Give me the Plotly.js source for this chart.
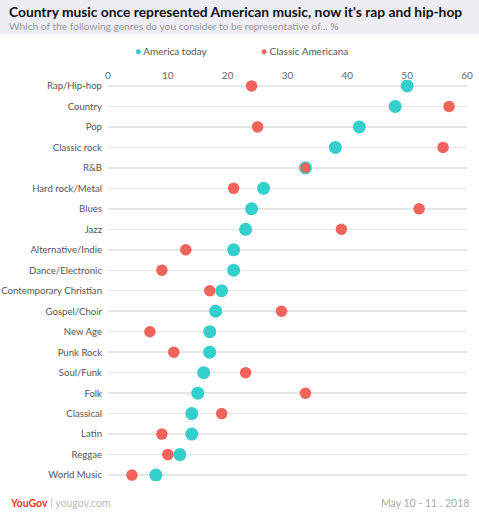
<!DOCTYPE html>
<html>
<head>
<meta charset="utf-8">
<script src="https://cdn.plot.ly/plotly-3.0.1.min.js"></script>
<style>html,body{margin:0;padding:0;background:#fff;}#chart{width:479px;height:517px;}</style>
</head>
<body>
<div id="chart"></div>
<script>
const genres = ["Rap/Hip-hop","Country","Pop","Classic rock","R&B","Hard rock/Metal","Blues","Jazz","Alternative/Indie","Dance/Electronic","Contemporary Christian","Gospel/Choir","New Age","Punk Rock","Soul/Funk","Folk","Classical","Latin","Reggae","World Music"];
const americaToday = [50,48,42,38,33,26,24,23,21,21,19,18,17,17,16,15,14,14,12,8];
const classicAmericana = [24,57,25,56,33,21,52,39,13,9,17,29,7,11,23,33,19,9,10,4];
const xTicks = [0,10,20,30,40,50,60];
const seriesNames = ["America today", "Classic Americana"];

const TEAL = "#33cfcc";
const RED = "#f1635b";
const FONT = "Lato, 'Open Sans', sans-serif";

const tealFill = americaToday.map((v,i) => v === classicAmericana[i] ? RED : TEAL);

const traces = [
  {
    type: "scatter", mode: "markers", name: seriesNames[1],
    x: classicAmericana, y: genres,
    marker: {color: RED, size: 11.5, line: {width: 0}},
    hoverinfo: "x+y", showlegend: false
  },
  {
    type: "scatter", mode: "markers", name: seriesNames[0],
    x: americaToday, y: genres,
    marker: {color: tealFill, size: 11.5, line: {width: 1.5, color: TEAL}},
    hoverinfo: "x+y", showlegend: false
  }
];

const W = 479, H = 517;
const L = 108, R = 12, T = 80, B = 36;
const pw = W - L - R, ph = H - T - B;
const px = v => (v - L) / pw;          // pixel x -> paper
const py = v => (H - B - v) / ph;      // pixel y -> paper

const layout = {
  width: W, height: H,
  margin: {l: L, r: R, t: T, b: B, pad: 0},
  paper_bgcolor: "#ffffff", plot_bgcolor: "#ffffff",
  font: {family: FONT, color: "#555"},
  showlegend: false,
  xaxis: {
    side: "top", range: [0, 60], tickvals: xTicks, ticktext: xTicks.map(String),
    showgrid: false, zeroline: false, showline: false, ticks: "",
    tickfont: {size: 10, color: "#666", family: FONT},
    ticklabelstandoff: -2,
    fixedrange: true
  },
  yaxis: {
    type: "category", categoryorder: "array", categoryarray: genres,
    range: [19.29, -0.29], autorange: false,
    showgrid: true, gridcolor: "#e6e6e6", gridwidth: 1.5,
    zeroline: false, showline: false, ticks: "", ticklabelstandoff: 5,
    tickfont: {size: 9.6, color: "#555", family: FONT},
    fixedrange: true
  },
  shapes: [
    {type: "rect", xref: "paper", yref: "paper",
     x0: px(0), x1: px(W), y0: py(34), y1: py(0),
     fillcolor: "#eeedf3", line: {width: 0}, layer: "below"}
  ],
  annotations: [
    {xref: "paper", yref: "paper", x: px(7), y: py(12), xanchor: "left", yanchor: "middle",
     text: "<b>Country music once represented American music, now it's rap and hip-hop</b>",
     showarrow: false, font: {size: 13.8, color: "#111", family: FONT}},
    {xref: "paper", yref: "paper", x: px(7), y: py(26), xanchor: "left", yanchor: "middle",
     text: "Which of the following genres do you consider to be representative of... %",
     showarrow: false, font: {size: 10.2, color: "#999", family: FONT}},
    {xref: "paper", yref: "paper", x: px(133), y: py(51), xanchor: "left", yanchor: "middle",
     text: "<span style='color:" + TEAL + "'>●</span> " + seriesNames[0],
     showarrow: false, font: {size: 10, color: "#555", family: FONT}},
    {xref: "paper", yref: "paper", x: px(259), y: py(51), xanchor: "left", yanchor: "middle",
     text: "<span style='color:" + RED + "'>●</span> " + seriesNames[1],
     showarrow: false, font: {size: 10, color: "#555", family: FONT}},
    {xref: "paper", yref: "paper", x: px(8), y: py(503), xanchor: "left", yanchor: "middle",
     text: "<b><span style='color:#e8372c'>YouGov</span></b><span style='color:#bbb'> | yougov.com</span>",
     showarrow: false, font: {size: 10.5, color: "#999", family: FONT}},
    {xref: "paper", yref: "paper", x: px(471), y: py(503), xanchor: "right", yanchor: "middle",
     text: "May 10 - 11 . 2018",
     showarrow: false, font: {size: 10.5, color: "#aaa", family: FONT}}
  ]
};

Plotly.newPlot("chart", traces, layout, {displayModeBar: false, staticPlot: true});
</script>
</body>
</html>
